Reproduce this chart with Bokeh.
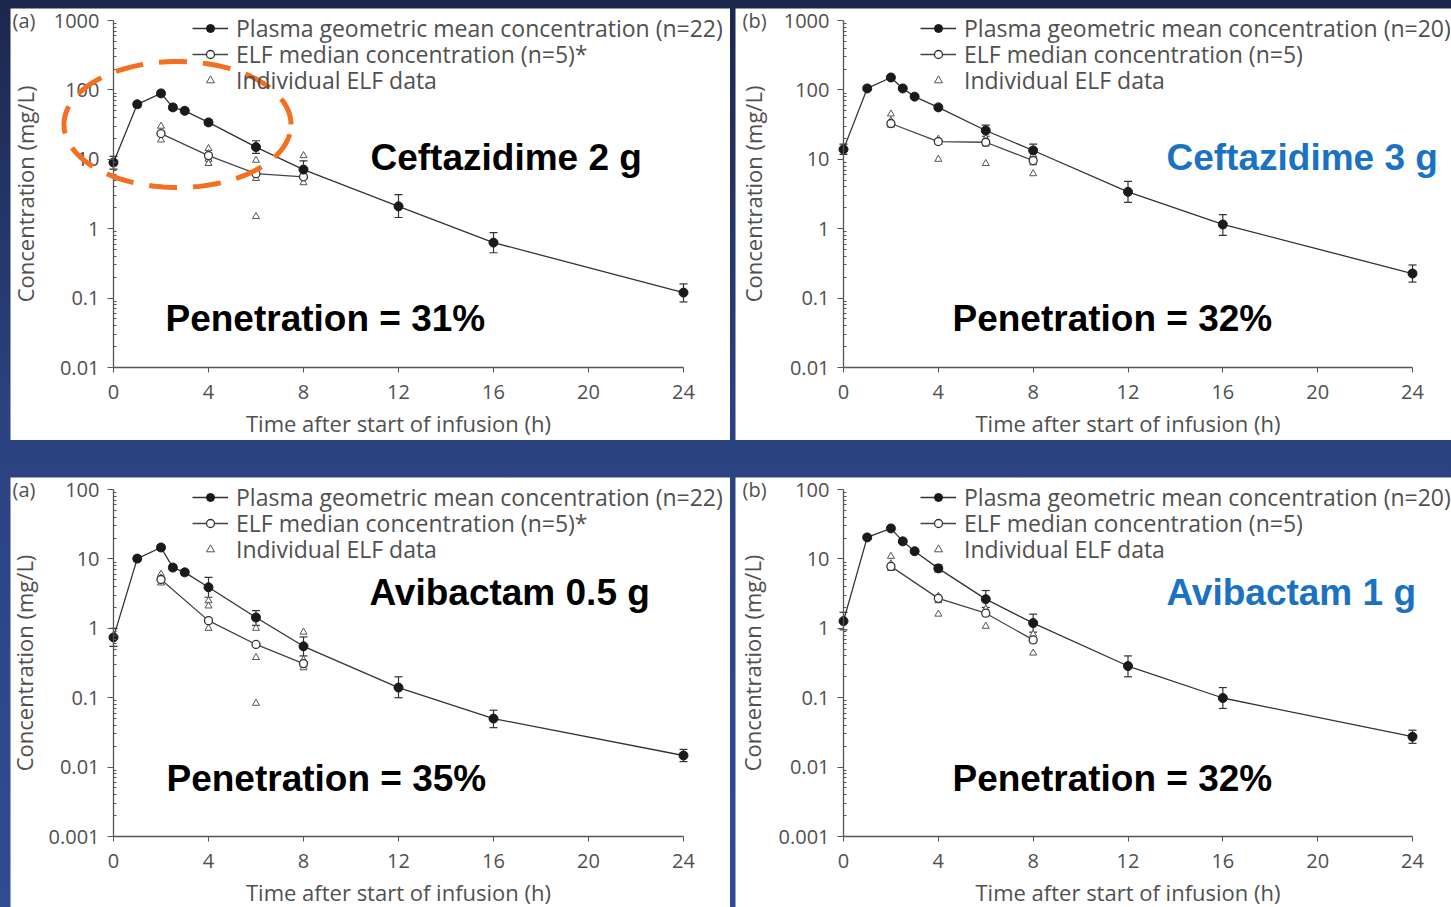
import numpy as np
from bokeh.plotting import figure
from bokeh.models import (Range1d, FixedTicker, CustomJSTickFormatter, Legend, LegendItem,
                          Whisker, TeeHead, ColumnDataSource, Label, PolyAnnotation, Row, Column)
from bokeh.embed import file_html
from bokeh.resources import INLINE

# ---------------- data ----------------
TIME = [0, 1, 2, 2.5, 3, 4, 6, 8, 12, 16, 24]
ELF_TIME = [2, 4, 6, 8]
X_TICKS = [0, 4, 8, 12, 16, 20, 24]

# (a) Ceftazidime 2 g
caz2_mean = [9.0, 62, 89, 56, 50, 34, 15, 7.1, 2.1, 0.63, 0.12]
caz2_hi = [11, 68, 97, 61, 54, 37, 18.5, 9.5, 3.1, 0.88, 0.16]
caz2_lo = [7.2, 56, 82, 51, 46, 31, 12.2, 5.3, 1.45, 0.45, 0.088]
caz2_elf = [23.5, 11.3, 6.2, 5.6]
caz2_ind_t = [2, 2, 2, 4, 4, 4, 4, 6, 6, 6, 6, 8, 8, 8, 8]
caz2_ind_v = [30, 24, 19, 14.3, 12.1, 10, 8.7, 9.7, 6.2, 5.3, 1.5, 11.3, 7.4, 5.6, 4.6]

# (b) Ceftazidime 3 g
caz3_mean = [13.9, 105, 151, 105, 80, 56, 26, 13.4, 3.4, 1.15, 0.226]
caz3_hi = [16.5, 112, 160, 112, 85, 60, 31, 16.5, 4.8, 1.6, 0.3]
caz3_lo = [11.8, 98, 142, 98, 75, 52, 21.5, 10.8, 2.4, 0.8, 0.17]
caz3_elf = [32.8, 18, 17.6, 9.6]
caz3_ind_t = [2, 2, 2, 4, 4, 4, 6, 6, 6, 8, 8, 8, 8]
caz3_ind_v = [45, 36, 31, 19.5, 17.6, 10, 20, 16.6, 8.7, 11.6, 9.6, 8.9, 6.2]

# (c) Avibactam 0.5 g
avi05_mean = [0.74, 10.1, 14.6, 7.5, 6.4, 3.9, 1.43, 0.55, 0.14, 0.050, 0.0147]
avi05_hi = [1.0, 11, 16, 8.2, 7.0, 5.4, 1.8, 0.75, 0.2, 0.066, 0.018]
avi05_lo = [0.55, 9.2, 13.3, 6.9, 5.9, 2.8, 1.1, 0.4, 0.1, 0.037, 0.012]
avi05_elf = [5.05, 1.29, 0.585, 0.31]
avi05_ind_t = [2, 2, 2, 4, 4, 4, 4, 6, 6, 6, 6, 8, 8, 8, 8]
avi05_ind_v = [6, 5.3, 4.5, 2.5, 2.1, 1.3, 1.0, 1.4, 1.0, 0.38, 0.083, 0.88, 0.35, 0.3, 0.27]

# (d) Avibactam 1 g
avi1_mean = [1.27, 20.4, 27.5, 17.9, 12.9, 7.3, 2.63, 1.19, 0.286, 0.099, 0.0274]
avi1_hi = [1.7, 22, 29.5, 19, 13.8, 8.2, 3.5, 1.6, 0.4, 0.14, 0.034]
avi1_lo = [0.95, 19, 25.6, 16.8, 12, 6.5, 2.0, 0.88, 0.2, 0.07, 0.022]
avi1_elf = [7.8, 2.7, 1.65, 0.68]
avi1_ind_t = [2, 2, 2, 4, 4, 4, 6, 6, 6, 8, 8, 8]
avi1_ind_v = [10.9, 8.5, 7.3, 2.9, 2.5, 1.6, 1.9, 1.6, 1.07, 0.82, 0.66, 0.44]

TICKS_HIGH = [0.01, 0.1, 1, 10, 100, 1000]
TICKS_LOW = [0.001, 0.01, 0.1, 1, 10, 100]

# ---------------- style ----------------
FONT = "Open Sans"
GREY = "#505050"
AXIS = "#555555"
BLUE = "#1b72c2"


def make_panel(width, height, ax_left, ax_right, ax_top, ax_bottom, yticks, letter,
               mean, hi, lo, elf, ind_t, ind_v, n_plasma, star,
               drug, drug_color, drug_pos, pen, pen_pos, ylab_standoff, leg_x):
    # the frame covers the whole panel; axes sit at fixed data locations
    pxh = (ax_right - ax_left) / 24.0
    x0 = -ax_left / pxh
    x1 = 24 + (width - ax_right) / pxh
    ymin, ymax = yticks[0], yticks[-1]
    dec = np.log10(ymax / ymin)
    pxd = (ax_bottom - ax_top) / dec
    ytop = 10 ** (np.log10(ymax) + ax_top / pxd)
    ybot = 10 ** (np.log10(ymin) - (height - ax_bottom) / pxd)

    p = figure(width=width, height=height, y_axis_type="log",
               x_range=Range1d(x0, x1), y_range=Range1d(ybot, ytop),
               output_backend="svg", toolbar_location=None, min_border=0)
    p.outline_line_color = None
    p.grid.visible = False
    p.background_fill_color = "white"
    p.border_fill_color = "white"

    # axes
    p.xaxis.ticker = FixedTicker(ticks=X_TICKS)
    minors = [k * 10.0 ** e for e in range(int(np.log10(ymin)), int(np.log10(ymax)))
              for k in range(2, 10)]
    p.yaxis.ticker = FixedTicker(ticks=yticks, minor_ticks=minors)
    p.yaxis.formatter = CustomJSTickFormatter(code="return tick.toString();")
    p.xaxis.fixed_location = ymin
    p.yaxis.fixed_location = 0
    p.xaxis.bounds = (0, 24)
    p.yaxis.bounds = (ymin, ymax)
    for ax in (p.xaxis[0], p.yaxis[0]):
        ax.axis_line_color = AXIS
        ax.axis_line_width = 1.3
        ax.major_tick_line_color = AXIS
        ax.minor_tick_line_color = AXIS
        ax.major_label_text_font = FONT
        ax.major_label_text_font_size = "20px"
        ax.major_label_text_color = GREY
        ax.axis_label_text_font = FONT
        ax.axis_label_text_font_size = "22px"
        ax.axis_label_text_font_style = "normal"
        ax.axis_label_text_color = GREY
    p.xaxis.major_tick_in = 0
    p.xaxis.major_tick_out = 5
    p.xaxis.minor_tick_line_color = None
    p.xaxis.major_label_standoff = 12
    p.xaxis.axis_label = "Time after start of infusion (h)"
    p.xaxis.axis_label_standoff = 6
    p.yaxis.major_tick_in = 0
    p.yaxis.major_tick_out = 6
    p.yaxis.minor_tick_in = 3
    p.yaxis.minor_tick_out = 0
    p.yaxis.major_label_standoff = 8
    p.yaxis.axis_label = "Concentration (mg/L)"
    p.yaxis.axis_label_standoff = ylab_standoff

    # individual ELF data
    tri = p.scatter(ind_t, ind_v, marker="triangle", size=7, fill_color="white",
                    line_color="#555555", line_width=1)
    # ELF median
    elf_line = p.line(ELF_TIME, elf, line_color="#444444", line_width=1.3)
    elf_pts = p.scatter(ELF_TIME, elf, marker="circle", size=8, fill_color="white",
                        line_color="#333333", line_width=1.3)
    # plasma geometric mean with error bars
    src = ColumnDataSource(dict(t=TIME, m=mean, hi=hi, lo=lo))
    p.add_layout(Whisker(source=src, base="t", upper="hi", lower="lo",
                         line_color="#333333", line_width=1.2,
                         upper_head=TeeHead(size=8, line_color="#333333", line_width=1.2),
                         lower_head=TeeHead(size=8, line_color="#333333", line_width=1.2)))
    pl_line = p.line("t", "m", source=src, line_color="#333333", line_width=1.3)
    pl_pts = p.scatter("t", "m", source=src, marker="circle", size=9,
                       fill_color="#1a1a1a", line_color="#1a1a1a")

    # legend: one single-row legend per entry so the rows sit 26 px apart
    entries = [
        ("Plasma geometric mean concentration (n=%d)" % n_plasma, [pl_line, pl_pts]),
        ("ELF median concentration (n=5)" + ("*" if star else ""), [elf_line, elf_pts]),
        ("Individual ELF data", [tri]),
    ]
    row_center_from_top = [20, 46, 72]
    for (lab, rends), cy in zip(entries, row_center_from_top):
        vy = height - cy - 16
        p.add_layout(Legend(items=[LegendItem(label=lab, renderers=rends)],
                            location=(leg_x, vy),
                            glyph_width=36, glyph_height=20, label_height=20,
                            label_standoff=8, spacing=0, padding=0, margin=0,
                            background_fill_alpha=0, border_line_alpha=0,
                            label_text_font=FONT, label_text_font_size="23px",
                            label_text_color=GREY))

    # panel letter, drug name, penetration (screen units relative to the frame)
    p.add_layout(Label(x=2 if star else 7, y=height - 12, x_units="screen", y_units="screen",
                       text=letter, text_font=FONT, text_font_size="20px", text_color=GREY,
                       text_align="left", text_baseline="middle"))
    p.add_layout(Label(x=drug_pos[0], y=drug_pos[1], x_units="screen", y_units="screen",
                       text=drug, text_font="Liberation Sans",
                       text_font_style="bold", text_font_size="37px", text_color=drug_color,
                       text_align="left", text_baseline="middle"))
    p.add_layout(Label(x=pen_pos[0], y=pen_pos[1], x_units="screen", y_units="screen",
                       text=pen, text_font="Liberation Sans",
                       text_font_style="bold", text_font_size="37px", text_color="black",
                       text_align="left", text_baseline="middle"))
    return p


p1 = make_panel(720, 432, 103, 673, 12, 359, TICKS_HIGH, "(a)",
                caz2_mean, caz2_hi, caz2_lo, caz2_elf, caz2_ind_t, caz2_ind_v, 22, True,
                "Ceftazidime 2 g", "black", (360, 283), "Penetration = 31%", (155, 122), 11, 182)
p2 = make_panel(716, 432, 108, 677, 12, 359, TICKS_HIGH, "(b)",
                caz3_mean, caz3_hi, caz3_lo, caz3_elf, caz3_ind_t, caz3_ind_v, 20, False,
                "Ceftazidime 3 g", BLUE, (431, 283), "Penetration = 32%", (217, 122), 13, 185)
p3 = make_panel(720, 430, 103, 673, 12, 359, TICKS_LOW, "(a)",
                avi05_mean, avi05_hi, avi05_lo, avi05_elf, avi05_ind_t, avi05_ind_v, 22, True,
                "Avibactam 0.5 g", "black", (359, 315), "Penetration = 35%", (156, 129), 7, 182)
p4 = make_panel(716, 430, 108, 677, 12, 359, TICKS_LOW, "(b)",
                avi1_mean, avi1_hi, avi1_lo, avi1_elf, avi1_ind_t, avi1_ind_v, 20, False,
                "Avibactam 1 g", BLUE, (431, 315), "Penetration = 32%", (217, 129), 9, 185)

# orange dashed highlight ellipse on panel (a), in screen units relative to the frame
theta = np.linspace(0, 2 * np.pi, 160)
ell = PolyAnnotation(xs=list(167 + 113.5 * np.cos(theta)),
                     ys=list(316 + 63 * np.sin(theta)),
                     xs_units="screen", ys_units="screen",
                     fill_alpha=0, line_color="#f37021", line_alpha=1.0, line_width=5,
                     line_dash="28 16")
p1.add_layout(ell)

r1 = Row(children=[p1, p2], spacing=5, margin=(8, 0, 0, 10))
r2 = Row(children=[p3, p4], spacing=5, margin=(0, 0, 0, 10))
root = Column(children=[r1, r2], spacing=37, width=1451, height=907,
              styles={"background": "linear-gradient(to bottom, #1c274c 0%, #2b4280 45%, #304c92 100%)"})

open("out.html", "w").write(file_html(root, INLINE))
